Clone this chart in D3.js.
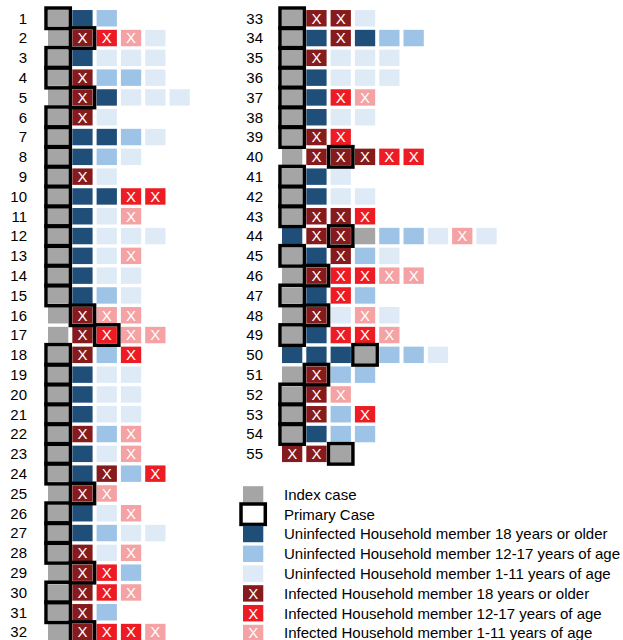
<!DOCTYPE html>
<html>
<head>
<meta charset="utf-8">
<script src="https://cdn.jsdelivr.net/npm/d3@7"></script>
<style>
  html, body { margin: 0; padding: 0; background: #fff; }
  svg { display: block; font-family: Arial, "Liberation Sans", sans-serif; }
</style>
</head>
<body>
<div id="chart"></div>
<script>
// Household composition, one string per household.
// I = index case, A/T/C = uninfected 18+/12-17/1-11, a/t/c = infected 18+/12-17/1-11
const householdIds = d3.range(1, 56);
const households = [
  'IAT', 'IatcC', 'IACCC', 'IaTTC', 'IaACCC', 'IaC', 'IAATC', 'IATC',
  'IaC', 'IAAtt', 'IACc', 'IACCC', 'IACc', 'IACC', 'IATC', 'Iacc',
  'Iatcc', 'IaTt', 'IACC', 'IACC', 'IACC', 'IaTc', 'IACc', 'IAaTt',
  'Iac', 'IACc', 'IATCC', 'IaCc', 'IatT', 'Iatc', 'IaT', 'Iattc',
  'IaaC', 'IAaATT', 'IaCCC', 'IACCC', 'IAtc', 'IACC', 'Iat', 'Iaaatt',
  'IAC', 'IACC', 'Iaat', 'AaaITTCcC', 'IAaTC', 'Iattcc', 'IAtT', 'IaCcC',
  'IAttc', 'AAAITTC', 'IaTT', 'Iac', 'IaTt', 'IATT', 'aaI'
];
// position (0-based) of the primary case within each household
const primaryCol = [
  0, 1, 0, 0, 1, 0, 0, 0, 0, 0, 0, 0, 0, 0, 0, 1,
  2, 0, 0, 0, 0, 0, 0, 0, 1, 0, 0, 0, 1, 0, 0, 1,
  0, 0, 0, 0, 0, 0, 0, 2, 0, 0, 0, 2, 0, 1, 0, 1,
  0, 3, 1, 0, 0, 0, 2
];

const categories = ['I', 'P', 'A', 'T', 'C', 'a', 't', 'c'];
const categoryLabels = [
  'Index case',
  'Primary Case',
  'Uninfected Household member 18 years or older',
  'Uninfected Household member 12-17 years of age',
  'Uninfected Household member 1-11 years of age',
  'Infected Household member 18 years or older',
  'Infected Household member 12-17 years of age',
  'Infected Household member 1-11 years of age'
];
const categoryColors = ['#a5a5a5', '#ffffff', '#1f4e79', '#9dc3e6', '#deebf7', '#861b1d', '#ed1c24', '#f4a2a4'];

const width = 623, height = 640;
const color = d3.scaleOrdinal().domain(categories).range(categoryColors);
const infected = new Set(['a', 't', 'c']);

const svg = d3.select('#chart').append('svg')
  .attr('width', width)
  .attr('height', height);

// flatten into cells
const cells = [];
households.forEach((h, i) => {
  h.split('').forEach((code, j) => {
    cells.push({ id: householdIds[i], panel: i < 32 ? 0 : 1, col: j, code, primary: primaryCol[i] === j });
  });
});

const panels = [
  { ids: householdIds.slice(0, 32), x0: 46, labelX: 27 },
  { ids: householdIds.slice(32), x0: 280, labelX: 263 }
];

const step = 19.8, colStep = 24.3;
panels.forEach(p => {
  p.y = d3.scaleBand()
    .domain(p.ids)
    .range([8.35, 8.35 + p.ids.length * step])
    .paddingInner(0.17)
    .paddingOuter(0.085);
  p.x = d3.scaleBand()
    .domain(d3.range(9))
    .range([p.x0, p.x0 + 9 * colStep])
    .paddingInner(0.165)
    .paddingOuter(0.0825);
});

// row labels
panels.forEach(p => {
  svg.append('g')
    .selectAll('text')
    .data(p.ids)
    .join('text')
      .attr('x', p.labelX)
      .attr('y', d => p.y(d) + p.y.bandwidth() / 2)
      .attr('dy', '0.36em')
      .attr('text-anchor', 'end')
      .style('font-size', '15px')
      .style('fill', '#000')
      .text(d => d);
});

const cellG = svg.append('g');
const cell = cellG.selectAll('g')
  .data(cells)
  .join('g')
    .attr('transform', d => {
      const p = panels[d.panel];
      return `translate(${p.x(d.col)}, ${p.y(d.id)})`;
    });

const bw = panels[0].x.bandwidth(), bh = panels[0].y.bandwidth();

cell.append('rect')
  .attr('width', bw)
  .attr('height', bh)
  .style('fill', d => color(d.code));

cell.filter(d => infected.has(d.code))
  .append('text')
    .attr('x', bw / 2)
    .attr('y', bh / 2)
    .attr('dy', '0.36em')
    .attr('text-anchor', 'middle')
    .style('font-size', '15px')
    .style('fill', '#fff')
    .text('X');

// primary case frames drawn on top
svg.append('g')
  .selectAll('rect')
  .data(cells.filter(d => d.primary))
  .join('rect')
    .attr('x', d => panels[d.panel].x(d.col) - 2)
    .attr('y', d => panels[d.panel].y(d.id) - 2)
    .attr('width', bw + 4)
    .attr('height', bh + 4)
    .style('fill', 'none')
    .style('stroke', '#000')
    .style('stroke-width', 3.5);

// legend
const legendY = d3.scaleBand()
  .domain(categories)
  .range([484.5, 484.5 + categories.length * 19.8])
  .paddingInner(0.17)
  .paddingOuter(0.085);

const legend = svg.append('g')
  .selectAll('g')
  .data(categories)
  .join('g')
    .attr('transform', d => `translate(243, ${legendY(d)})`);

legend.append('rect')
  .attr('width', bw)
  .attr('height', bh)
  .style('fill', d => color(d));

legend.filter(d => d === 'P')
  .append('rect')
    .attr('x', -2)
    .attr('y', -2)
    .attr('width', bw + 4)
    .attr('height', bh + 4)
    .style('fill', 'none')
    .style('stroke', '#000')
    .style('stroke-width', 3.5);

legend.filter(d => infected.has(d))
  .append('text')
    .attr('x', bw / 2)
    .attr('y', bh / 2)
    .attr('dy', '0.36em')
    .attr('text-anchor', 'middle')
    .style('font-size', '15px')
    .style('fill', '#fff')
    .text('X');

legend.append('text')
  .attr('x', 41)
  .attr('y', bh / 2)
  .attr('dy', '0.36em')
  .style('font-size', '15px')
  .style('fill', '#000')
  .text((d, i) => categoryLabels[i]);
</script>
</body>
</html>
